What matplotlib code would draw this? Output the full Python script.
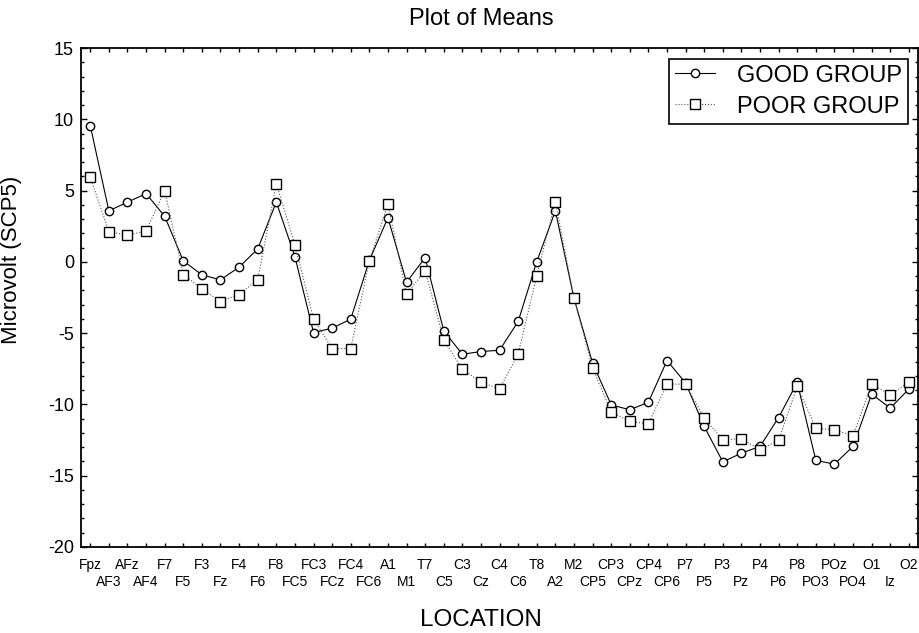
import matplotlib
matplotlib.use("Agg")
import matplotlib.pyplot as plt
from matplotlib.ticker import MultipleLocator

plt.rcParams['font.family'] = ['Liberation Sans', 'DejaVu Sans']
plt.rcParams['axes.unicode_minus'] = False

# electrode locations, in plotting order
locations = ["Fpz", "AF3", "AFz", "AF4", "F7", "F5", "F3", "Fz", "F4", "F6",
             "F8", "FC5", "FC3", "FCz", "FC4", "FC6", "A1", "M1", "T7", "C5",
             "C3", "Cz", "C4", "C6", "T8", "A2", "M2", "CP5", "CP3", "CPz",
             "CP4", "CP6", "P7", "P5", "P3", "Pz", "P4", "P6", "P8", "PO3",
             "POz", "PO4", "O1", "Iz", "O2"]

good_group = [9.56, 3.58, 4.19, 4.79, 3.2, 0.07, -0.91, -1.26, -0.37, 0.91,
              4.2, 0.37, -4.96, -4.65, -4.02, 0.1, 3.1, -1.43, 0.3, -4.84,
              -6.48, -6.29, -6.2, -4.18, 0.02, 3.58, -2.55, -7.1, -10.03, -10.38,
              -9.85, -6.92, -8.5, -11.55, -14.03, -13.42, -12.95, -10.92, -8.46, -13.93,
              -14.19, -12.95, -9.28, -10.26, -8.93]

poor_group = [5.94, 2.13, 1.87, 2.17, 5.0, -0.89, -1.89, -2.78, -2.29, -1.26,
              5.49, 1.21, -4.0, -6.08, -6.08, 0.07, 4.04, -2.27, -0.61, -5.47,
              -7.53, -8.44, -8.91, -6.48, -0.96, 4.23, -2.55, -7.45, -10.54, -11.2,
              -11.36, -8.58, -8.58, -10.96, -12.48, -12.41, -13.18, -12.53, -8.74, -11.66,
              -11.78, -12.2, -8.58, -9.33, -8.44]

x = list(range(len(locations)))

fig = plt.figure(figsize=(9.2, 6.33), dpi=100)
ax = fig.add_axes([0.088, 0.136, 0.91, 0.788])

ax.plot(x, good_group, color="black", linewidth=0.8, marker="o", markersize=6,
        markerfacecolor="white", markeredgecolor="black", markeredgewidth=1.0,
        label="GOOD GROUP")
ax.plot(x, poor_group, color="#555555", linewidth=0.8, linestyle=":", marker="s",
        markersize=6.5, markerfacecolor="white", markeredgecolor="black",
        markeredgewidth=1.0, label="POOR GROUP")

ax.set_xlim(-0.5, 44.5)
ax.set_ylim(-20, 15)

# labels on two rows: even positions on top, odd ones below
ax.set_xticks(x[0::2], locations[0::2])
ax.set_xticks(x[1::2], locations[1::2], minor=True)
ax.tick_params(axis="x", which="major", direction="in", top=True, length=3, width=1,
               pad=8, labelsize=10)
ax.tick_params(axis="x", which="minor", direction="in", top=True, length=3, width=1,
               pad=20, labelsize=10)

ax.yaxis.set_major_locator(MultipleLocator(5))
ax.yaxis.set_minor_locator(MultipleLocator(1))
ax.tick_params(axis="y", labelsize=13, direction="in", right=True, length=4, width=1, pad=5)
ax.tick_params(axis="y", which="minor", direction="in", right=True, length=2.5, width=1)
for s in ax.spines.values():
    s.set_linewidth(1.3)

fig.text(481 / 920, 1 - 25 / 633, "Plot of Means", fontsize=17, ha="center", va="baseline")
ax.set_ylabel("Microvolt (SCP5)", fontsize=16)
ax.yaxis.set_label_coords(-0.07, 0.575)
fig.text(481 / 920, 1 - 626 / 633, "LOCATION", fontsize=17.5, ha="center", va="baseline")

leg = ax.legend(loc="upper right", fontsize=17, fancybox=False, framealpha=1,
                edgecolor="black", handlelength=1.7, borderpad=0.25,
                labelspacing=0.38, handletextpad=0.93, borderaxespad=0.45)
leg.get_frame().set_linewidth(1.2)

plt.savefig("out.png", dpi=100)
